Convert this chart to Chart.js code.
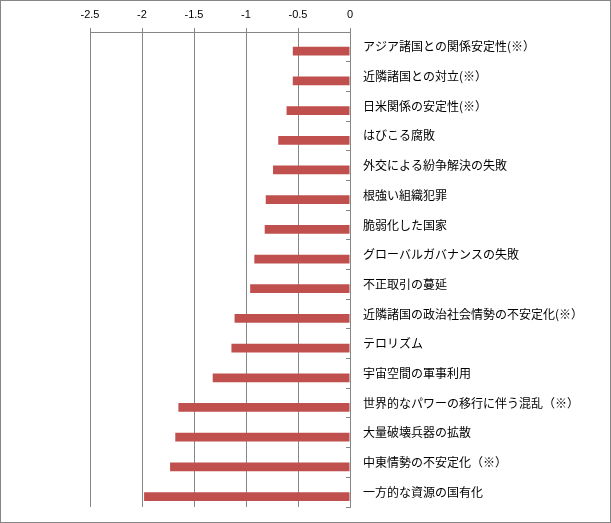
<!DOCTYPE html>
<html>
<head>
<meta charset="utf-8">
<script src="https://cdn.jsdelivr.net/npm/chart.js@4/dist/chart.umd.min.js"></script>
<style>
    body { margin: 0; background: #fff; }
    #wrap { width: 609px; height: 521px; border: 1px solid #868686; position: relative; }
</style>
</head>
<body>
<div id="wrap"><canvas id="riskChart"></canvas></div>
<script>
// categorias (de cima para baixo)
const categorias = [
    'アジア諸国との関係安定性(※）',
    '近隣諸国との対立(※）',
    '日米関係の安定性(※）',
    'はびこる腐敗',
    '外交による紛争解決の失敗',
    '根強い組織犯罪',
    '脆弱化した国家',
    'グローバルガバナンスの失敗',
    '不正取引の蔓延',
    '近隣諸国の政治社会情勢の不安定化(※）',
    'テロリズム',
    '宇宙空間の軍事利用',
    '世界的なパワーの移行に伴う混乱（※）',
    '大量破壊兵器の拡散',
    '中東情勢の不安定化（※）',
    '一方的な資源の国有化'
];

const valores = [
    -0.55, -0.55, -0.61, -0.69, -0.74, -0.81, -0.82, -0.92,
    -0.96, -1.11, -1.14, -1.32, -1.65, -1.68, -1.73, -1.98
];

const xTicks = [-2.5, -2, -1.5, -1, -0.5, 0];

const cinza = '#868686';

const config = {
    type: 'bar',
    data: {
        labels: categorias,
        datasets: [
            // série vazia: empurra as barras para a metade de baixo de cada categoria
            { label: '', data: [], backgroundColor: 'rgba(0,0,0,0)' },
            { label: 'valor', data: valores, backgroundColor: '#C0504D' }
        ]
    },
    options: {
        indexAxis: 'y',
        responsive: true,
        maintainAspectRatio: false,
        animation: false,
        events: [],
        layout: { padding: { left: 89, top: 0, right: 0, bottom: 15 } },
        datasets: {
            bar: { categoryPercentage: 0.59, barPercentage: 1.0 }
        },
        plugins: {
            legend: { display: false },
            tooltip: { enabled: false }
        },
        scales: {
            x: {
                position: 'top',
                min: xTicks[0],
                max: xTicks[xTicks.length - 1],
                afterBuildTicks: (scale) => {
                    scale.ticks = xTicks.map(v => ({ value: v }));
                },
                grid: { color: cinza, tickLength: 4, lineWidth: 1 },
                border: { color: cinza },
                ticks: {
                    color: '#000',
                    padding: 6,
                    maxRotation: 0,
                    callback: (v) => String(v),
                    font: { family: 'Liberation Sans', size: 11 }
                },
                afterFit: (scale) => { scale.height = 31; }
            },
            y: {
                position: 'right',
                grid: {
                    offset: true,
                    drawOnChartArea: false,
                    tickLength: -4,
                    color: cinza
                },
                border: { color: cinza },
                ticks: {
                    color: '#000',
                    padding: 17,
                    autoSkip: false,
                    font: { family: 'Noto Sans CJK JP', size: 12 }
                },
                afterFit: (scale) => {
                    scale.width = 260;
                    scale.paddingTop = 0;
                    scale.paddingBottom = 0;
                }
            }
        }
    }
};

let chart;
document.addEventListener('DOMContentLoaded', () => {
    const canvas = document.getElementById('riskChart');
    if (canvas) {
        chart = new Chart(canvas, config);
    }
});
</script>
</body>
</html>
